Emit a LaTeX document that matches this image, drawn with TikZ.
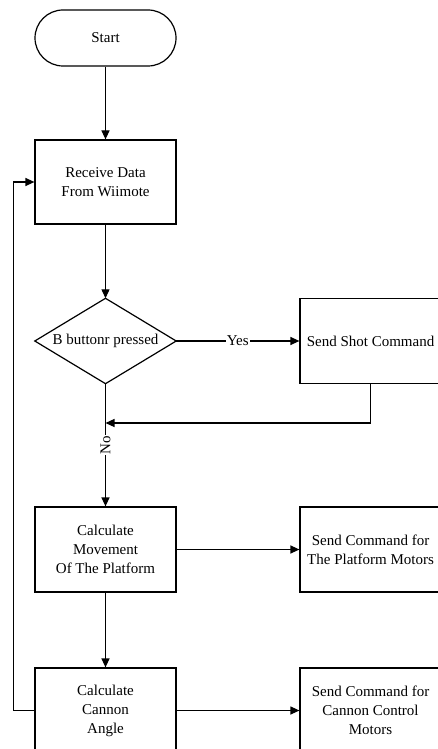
\documentclass[tikz,border=0pt]{standalone}
\usepackage{fontspec}
\setmainfont{Liberation Serif}
\usetikzlibrary{arrows.meta}
\begin{document}
\begin{tikzpicture}[x=1pt,y=-1pt,
  every node/.style={font=\fontsize{15}{19}\selectfont, align=center, inner sep=0pt},
  stepbox/.style={draw, line width=1.2pt, minimum width=141pt, minimum height=85pt},
  startbox/.style={draw, line width=1.2pt, minimum width=141pt, minimum height=56pt, rounded corners=28pt},
  decbox/.style={minimum width=141pt, minimum height=85pt},
  flow/.style={line width=1.2pt, -{Triangle[length=9pt,width=8pt]}},
  plain/.style={line width=1.2pt},
  lbl/.style={fill=white, inner sep=1pt}]
  \useasboundingbox (0,0) rectangle (438,749);
  \clip (0,0) rectangle (438,749);

  % main column
  \node[startbox] (start)   at (105.5,38)  {Start};
  \node[stepbox, minimum height=84pt] (receive) at (105.5,182) {Receive Data\\From Wiimote};
  \node[decbox]  (dec)      at (105.5,341) {B buttonr pressed};
  \draw[plain] (dec.north) -- (dec.east) -- (dec.south) -- (dec.west) -- cycle;
  \node[stepbox] (movement) at (105.5,549.5) {Calculate\\Movement\\Of The Platform};
  \node[stepbox] (angle)    at (105.5,710.5) {Calculate\\Cannon\\Angle};

  % right column
  \node[stepbox] (shot)     at (370.5,341)   {Send Shot Command};
  \node[stepbox] (platform) at (370.5,549.5) {Send Command for\\The Platform Motors};
  \node[stepbox] (cannon)   at (370.5,710.5) {Send Command for\\Cannon Control\\Motors};

  \coordinate (merge) at (105.5,423);

  % connectors
  \draw[flow] (start) -- (receive);
  \draw[flow] (receive) -- (dec.north);
  \draw[flow] (dec.east) -- node[lbl] {Yes} (shot.west);
  \draw[flow] (shot.south) |- (merge);
  \draw[flow] (dec.south) -- node[lbl, rotate=90, pos=0.5] {No} (movement.north);
  \draw[flow] (movement) -- (platform);
  \draw[flow] (movement) -- (angle);
  \draw[flow] (angle) -- (cannon);
  \draw[flow] (angle.west) -- ++(-21,0) |- (receive.west);
\end{tikzpicture}
\end{document}
